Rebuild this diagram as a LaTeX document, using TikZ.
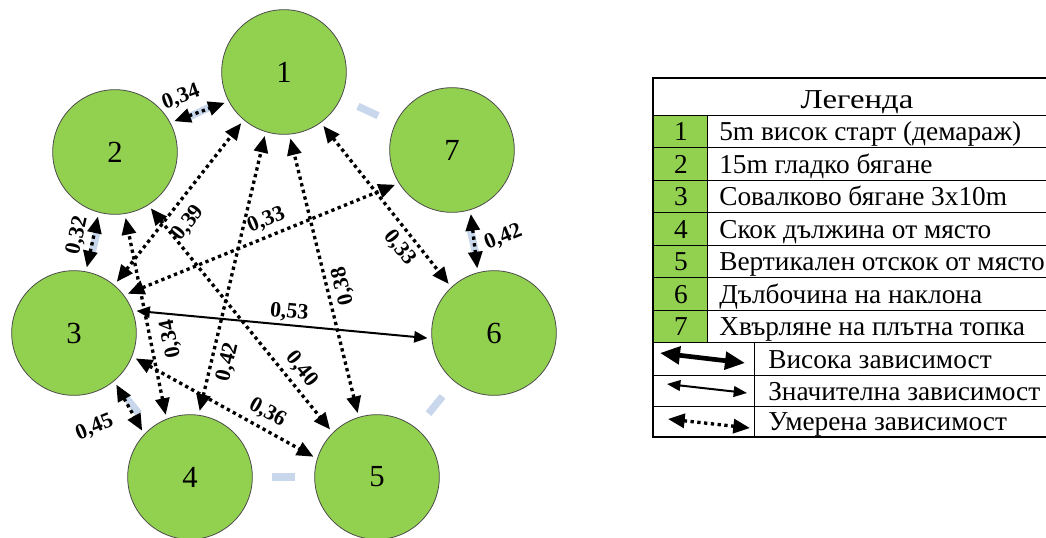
\documentclass[tikz,border=0pt]{standalone}
\usepackage{fontspec}
\setmainfont{Liberation Serif}
\newfontfamily\headfont[FakeStretch=1.2]{Liberation Serif}
\usetikzlibrary{arrows.meta,calc,backgrounds}
\definecolor{testgreen}{HTML}{92D050}
\definecolor{ringblue}{HTML}{C8D7EB}
\tikzstyle{test}=[circle,draw=black!70,line width=0.6pt,fill=testgreen,minimum size=93.5pt,inner sep=0pt,font=\fontsize{23}{25}\selectfont]
\tikzstyle{dep}=[{Triangle[length=12.5pt,width=10.5pt]}-{Triangle[length=12.5pt,width=10.5pt]},line width=2.5pt,dash pattern=on 2.5pt off 2.6pt,shorten <=3pt,shorten >=3pt]
\tikzstyle{sig}=[{Triangle[length=10pt,width=8.5pt]}-{Triangle[length=10pt,width=8.5pt]},line width=1.5pt,shorten <=3pt,shorten >=3pt]
\tikzstyle{weight}=[font=\bfseries\fontsize{16.5}{18}\selectfont,inner sep=2pt]
\tikzstyle{ring}=[ringblue,line width=5.5pt]
\tikzstyle{legtext}=[anchor=base west,inner sep=0pt,font=\fontsize{20.5}{22}\selectfont]
\tikzstyle{legnum}=[anchor=base,inner sep=0pt,font=\fontsize{20.5}{22}\selectfont]

\begin{document}
\begin{tikzpicture}[x=0.75pt,y=0.75pt]
\useasboundingbox (0,0) rectangle (1046,-537);
\clip (0,0) rectangle (1046,-537);
% tests
\node[test] (t1) at (284,-72) {1};
\node[test] (t2) at (115,-152) {2};
\node[test] (t3) at (74,-333) {3};
\node[test] (t4) at (190,-477) {4};
\node[test] (t5) at (377,-477) {5};
\node[test] (t6) at (494,-333) {6};
\node[test] (t7) at (452,-150) {7};
% pale marks between neighbours
\begin{scope}[on background layer]
\draw[ring] ($(t1)!0.44!(t7)$) -- ($(t1)!0.56!(t7)$);
\draw[ring] ($(t7)!0.44!(t6)$) -- ($(t7)!0.56!(t6)$);
\draw[ring] ($(t6)!0.44!(t5)$) -- ($(t6)!0.56!(t5)$);
\draw[ring] ($(t5)!0.44!(t4)$) -- ($(t5)!0.56!(t4)$);
\draw[ring] ($(t4)!0.44!(t3)$) -- ($(t4)!0.56!(t3)$);
\draw[ring] ($(t3)!0.44!(t2)$) -- ($(t3)!0.56!(t2)$);
\draw[ring] ($(t2)!0.44!(t1)$) -- ($(t2)!0.56!(t1)$);
\end{scope}
% correlations
\draw[dep] (t2.28) -- node[weight,sloped,pos=0.3,above=5pt]{0,34} (t1.208);
\draw[dep] (t3.79) -- node[weight,sloped,pos=0.55,above=2pt]{0,32} (t2.255);
\draw[dep] (t3.-50) -- node[weight,xshift=-26pt,yshift=-15pt,rotate=22]{0,45} (t4.137);
\draw[dep] (t7.-73) -- node[weight,xshift=22pt,yshift=3pt,rotate=22]{0,42} (t6.105);
\draw[dep] (t1.306) -- node[weight,sloped,pos=0.7,below=2pt]{0,33} (t6.133);
\draw[dep] (t3.37) -- node[weight,sloped,pos=0.54,above=2pt]{0,33} (t7.212);
\draw[dep] (t3.50) -- node[weight,sloped,pos=0.45,below=5pt]{0,39} (t1.230);
\draw[dep] (t4.112) -- node[weight,sloped,allow upside down,pos=0.37,below=5pt]{0,34} (t2.-81);
\draw[dep] (t4.82) -- node[weight,sloped,pos=0.2,below=2pt]{0,42} (t1.253);
\draw[dep] (t5.107) -- node[weight,sloped,allow upside down,pos=0.45,below=2pt]{0,38} (t1.275);
\draw[dep] (t2.-58) -- node[weight,sloped,pos=0.765,above=2pt]{0,40} (t5.135);
\draw[dep] (t3.-22) -- node[weight,sloped,pos=0.69,above=2pt]{0,36} (t5.163);
\draw[sig] (t3.21) -- node[weight,sloped,pos=0.52,above]{0,53} (t6.185);
% legend table
\fill[testgreen] (653,-115) rectangle (707,-342);
\draw[line width=1.1pt] (653,-78) rectangle (1059,-437);
\draw (653,-115) -- (1059,-115);
\draw (653,-147) -- (1059,-147);
\draw (653,-180) -- (1059,-180);
\draw (653,-212) -- (1059,-212);
\draw (653,-245) -- (1059,-245);
\draw (653,-277) -- (1059,-277);
\draw (653,-310) -- (1059,-310);
\draw (653,-342) -- (1059,-342);
\draw (653,-375) -- (1059,-375);
\draw (653,-406) -- (1059,-406);
\draw (707,-115) -- (707,-342);
\draw (754,-342) -- (754,-437);
\node[legnum,font=\headfont\fontsize{20.5}{22}\selectfont] (lh) at (857,-108) {Легенда};
\node[legnum] (n1) at (681,-140) {1};
\node[legnum] (n2) at (681,-173) {2};
\node[legnum] (n3) at (681,-205) {3};
\node[legnum] (n4) at (681,-238) {4};
\node[legnum] (n5) at (681,-270) {5};
\node[legnum] (n6) at (681,-303) {6};
\node[legnum] (n7) at (681,-335) {7};
\node[legtext] (d1) at (719,-140) {5m висок старт (демараж)};
\node[legtext] (d2) at (719,-173) {15m гладко бягане};
\node[legtext] (d3) at (719,-205) {Совалково бягане 3x10m};
\node[legtext] (d4) at (719,-238) {Скок дължина от място};
\node[legtext] (d5) at (719,-270) {Вертикален отскок от място};
\node[legtext] (d6) at (719,-303) {Дълбочина на наклона};
\node[legtext] (d7) at (719,-335) {Хвърляне на плътна топка};
\node[legtext] (k1) at (768,-368) {Висока зависимост};
\node[legtext] (k2) at (768,-400) {Значителна зависимост};
\node[legtext] (k3) at (768,-430) {Умерена зависимост};
% legend arrows
\coordinate (a1) at (660,-353);
\coordinate (b1) at (745,-363);
\coordinate (a2) at (667,-384);
\coordinate (b2) at (747,-393);
\coordinate (a3) at (668,-419);
\coordinate (b3) at (750,-428);
\draw[{Triangle[length=15pt,width=13pt]}-{Triangle[length=15pt,width=13pt]},line width=3.5pt] (a1) -- (b1);
\draw[{Triangle[length=10pt,width=8pt]}-{Triangle[length=10pt,width=8pt]},line width=1.5pt] (a2) -- (b2);
\draw[dep,shorten <=0pt,shorten >=0pt] (a3) -- (b3);
\end{tikzpicture}
\end{document}
